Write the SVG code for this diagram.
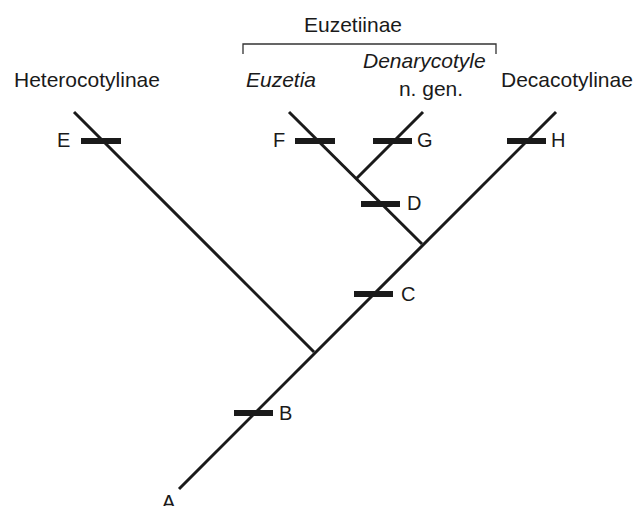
<svg xmlns="http://www.w3.org/2000/svg" width="634" height="506" viewBox="0 0 634 506">
<style>
text{font-family:"Liberation Sans",Arial,sans-serif;fill:#1a1a1a}
.name{font-size:21px}
.it{font-style:italic}
.lab{font-size:20px}
.br{stroke:#1a1a1a;stroke-width:6;fill:none}
.ln{stroke:#1a1a1a;stroke-width:3;fill:none;stroke-linecap:butt}
.bk{stroke:#333;stroke-width:1.3;fill:none}
</style>
<rect width="634" height="506" fill="#fff"/>
<g id="connectors">
<line class="ln" x1="179" y1="489" x2="556" y2="112"/>
<line class="ln" x1="314" y1="352" x2="74" y2="112"/>
<line class="ln" x1="422" y1="244" x2="289" y2="112"/>
<line class="ln" x1="356" y1="179" x2="423" y2="112"/>
</g>
<g id="bracket">
<polyline class="bk" points="243,54 243,44 496,44 496,54"/>
<text class="name" x="353" y="32" text-anchor="middle">Euzetiinae</text>
</g>
<g id="heterocotylinae"><text class="name" x="14" y="87">Heterocotylinae</text></g>
<g id="euzetia"><text class="name it" x="246" y="87">Euzetia</text></g>
<g id="denarycotyle"><text class="name it" x="363" y="68">Denarycotyle</text><text class="name" x="431" y="96" text-anchor="middle">n. gen.</text></g>
<g id="decacotylinae"><text class="name" x="501" y="87">Decacotylinae</text></g>
<g id="A"><text class="lab" x="162" y="509">A</text></g>
<g id="B"><line class="br" x1="234" y1="413" x2="273" y2="413"/><text class="lab" x="279" y="420">B</text></g>
<g id="C"><line class="br" x1="354" y1="294" x2="393" y2="294"/><text class="lab" x="401" y="301">C</text></g>
<g id="D"><line class="br" x1="361" y1="204" x2="400" y2="204"/><text class="lab" x="407" y="210">D</text></g>
<g id="E"><line class="br" x1="81" y1="141" x2="121" y2="141"/><text class="lab" x="57" y="147">E</text></g>
<g id="F"><line class="br" x1="295" y1="141" x2="335" y2="141"/><text class="lab" x="273" y="147">F</text></g>
<g id="G"><line class="br" x1="373" y1="141" x2="412" y2="141"/><text class="lab" x="417" y="147">G</text></g>
<g id="H"><line class="br" x1="507" y1="141" x2="546" y2="141"/><text class="lab" x="551" y="147">H</text></g>
</svg>
